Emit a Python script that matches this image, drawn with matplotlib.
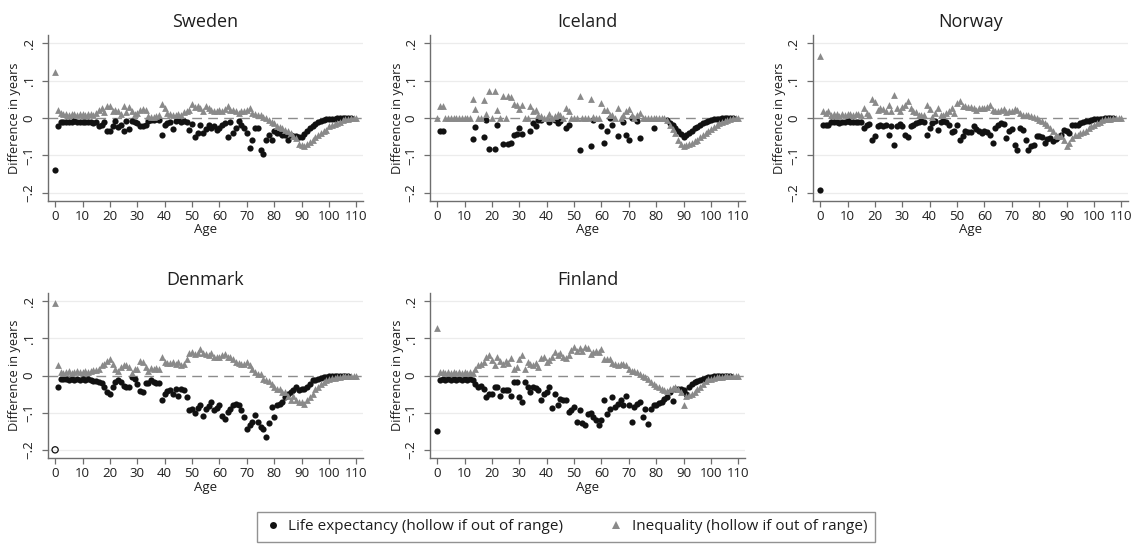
import matplotlib
matplotlib.use("Agg")
import matplotlib.pyplot as plt
from matplotlib.lines import Line2D
import numpy as np

plt.rcParams['font.family'] = ['Open Sans', 'DejaVu Sans']

ages = np.arange(0, 111)

countries = ["Sweden", "Iceland", "Norway", "Denmark", "Finland"]

# Difference in life expectancy (years), ages 0..110
sweden_le = [
    -0.138, -0.022, -0.012, -0.010, -0.012, -0.010, -0.012, -0.008, -0.012, -0.010,
    -0.012, -0.010, -0.012, -0.010, -0.014, -0.012, -0.022, -0.020, -0.012, -0.036,
    -0.036, -0.022, -0.009, -0.025, -0.018, -0.036, -0.009, -0.030, -0.009, -0.012,
    -0.014, -0.022, -0.022, -0.020, -0.008, -0.006, -0.005, -0.004, -0.006, -0.045,
    -0.018, -0.014, -0.012, -0.030, -0.009, -0.006, -0.012, -0.008, -0.010, -0.031,
    -0.016, -0.052, -0.040, -0.020, -0.040, -0.030, -0.018, -0.027, -0.022, -0.031,
    -0.027, -0.018, -0.013, -0.050, -0.012, -0.040, -0.027, -0.009, -0.018, -0.027,
    -0.040, -0.080, -0.058, -0.027, -0.027, -0.085, -0.095, -0.058, -0.045, -0.058,
    -0.036, -0.040, -0.040, -0.045, -0.045, -0.058, -0.045, -0.048, -0.049, -0.050,
    -0.050, -0.043, -0.036, -0.028, -0.022, -0.017, -0.012, -0.009, -0.006, -0.004,
    -0.003, -0.002, -0.002, -0.001, -0.001, 0.0, 0.0, 0.0, 0.0, 0.0,
    0.0]
iceland_le = [
    0.0, -0.034, -0.034, 0.0, 0.0, 0.0, 0.0, 0.0, 0.0, 0.0,
    0.0, 0.0, 0.0, -0.056, -0.025, 0.0, 0.0, -0.051, -0.006, -0.083,
    0.0, -0.083, -0.020, 0.0, -0.069, 0.0, -0.069, -0.067, -0.045, -0.043,
    -0.027, -0.043, 0.0, 0.0, -0.036, -0.013, -0.022, -0.005, -0.005, 0.0,
    0.0, -0.010, 0.0, -0.005, -0.013, -0.008, 0.0, -0.027, -0.018, 0.0,
    0.0, 0.0, -0.085, 0.0, 0.0, 0.0, -0.076, -0.006, 0.0, 0.0,
    -0.022, -0.067, -0.034, 0.0, -0.018, 0.0, -0.049, 0.0, -0.012, -0.045,
    -0.058, 0.0, 0.0, -0.009, -0.053, 0.0, 0.0, 0.0, 0.0, -0.027,
    0.0, 0.0, 0.0, 0.0, -0.006, -0.013, -0.020, -0.028, -0.036, -0.044,
    -0.052, -0.046, -0.040, -0.034, -0.028, -0.023, -0.018, -0.014, -0.011, -0.008,
    -0.006, -0.004, -0.003, -0.002, -0.001, 0.0, 0.0, 0.0, 0.0, 0.0,
    0.0]
norway_le = [
    -0.192, -0.018, -0.020, -0.018, -0.012, -0.010, -0.012, -0.014, -0.010, -0.012,
    -0.008, -0.012, -0.010, -0.012, -0.010, -0.012, -0.027, -0.020, -0.016, -0.058,
    -0.049, -0.022, -0.020, -0.022, -0.020, -0.045, -0.022, -0.073, -0.022, -0.015,
    -0.022, -0.045, -0.051, -0.022, -0.020, -0.013, -0.012, -0.009, -0.012, -0.045,
    -0.027, -0.013, -0.009, -0.033, -0.012, -0.009, -0.012, -0.018, -0.038, -0.036,
    -0.020, -0.058, -0.049, -0.036, -0.038, -0.038, -0.022, -0.030, -0.036, -0.040,
    -0.036, -0.038, -0.045, -0.067, -0.027, -0.018, -0.013, -0.015, -0.054, -0.036,
    -0.030, -0.071, -0.085, -0.027, -0.031, -0.060, -0.085, -0.076, -0.071, -0.049,
    -0.049, -0.051, -0.067, -0.055, -0.054, -0.062, -0.056, -0.050, -0.045, -0.031,
    -0.036, -0.040, -0.018, -0.018, -0.018, -0.013, -0.011, -0.009, -0.007, -0.005,
    -0.004, -0.003, -0.002, -0.002, -0.001, -0.001, 0.0, 0.0, 0.0, 0.0,
    0.0]
denmark_le = [
    -0.240, -0.031, -0.010, -0.010, -0.009, -0.012, -0.010, -0.013, -0.009, -0.011,
    -0.010, -0.012, -0.010, -0.013, -0.014, -0.016, -0.018, -0.021, -0.031, -0.045,
    -0.051, -0.031, -0.018, -0.012, -0.018, -0.027, -0.031, -0.031, -0.005, -0.009,
    -0.022, -0.043, -0.045, -0.020, -0.020, -0.012, -0.018, -0.020, -0.020, -0.067,
    -0.049, -0.042, -0.040, -0.049, -0.036, -0.054, -0.036, -0.040, -0.058, -0.094,
    -0.090, -0.100, -0.088, -0.080, -0.110, -0.090, -0.083, -0.071, -0.094, -0.087,
    -0.080, -0.110, -0.116, -0.098, -0.090, -0.080, -0.076, -0.080, -0.094, -0.111,
    -0.143, -0.134, -0.125, -0.107, -0.125, -0.138, -0.143, -0.165, -0.129, -0.085,
    -0.111, -0.080, -0.076, -0.071, -0.058, -0.051, -0.045, -0.040, -0.031, -0.040,
    -0.036, -0.036, -0.031, -0.022, -0.013, -0.011, -0.009, -0.007, -0.005, -0.004,
    -0.002, -0.001, -0.001, 0.0, 0.0, 0.0, 0.0, 0.0, 0.0, 0.0,
    0.0]
finland_le = [
    -0.149, -0.012, -0.010, -0.012, -0.009, -0.011, -0.010, -0.012, -0.009, -0.011,
    -0.010, -0.012, -0.009, -0.011, -0.022, -0.030, -0.027, -0.036, -0.058, -0.051,
    -0.049, -0.031, -0.031, -0.056, -0.040, -0.038, -0.040, -0.056, -0.018, -0.018,
    -0.058, -0.071, -0.018, -0.031, -0.045, -0.031, -0.033, -0.038, -0.067, -0.051,
    -0.045, -0.031, -0.087, -0.051, -0.080, -0.062, -0.065, -0.067, -0.098, -0.093,
    -0.085, -0.125, -0.093, -0.129, -0.134, -0.103, -0.100, -0.112, -0.121, -0.134,
    -0.120, -0.067, -0.103, -0.089, -0.058, -0.085, -0.076, -0.067, -0.080, -0.054,
    -0.080, -0.125, -0.085, -0.076, -0.071, -0.112, -0.090, -0.131, -0.089, -0.080,
    -0.080, -0.075, -0.071, -0.063, -0.058, -0.045, -0.069, -0.036, -0.036, -0.036,
    -0.040, -0.049, -0.031, -0.024, -0.018, -0.016, -0.012, -0.009, -0.006, -0.004,
    -0.003, -0.002, -0.001, -0.001, 0.0, 0.0, 0.0, 0.0, 0.0, 0.0,
    0.0]

# Difference in lifespan inequality (years), ages 0..110
sweden_ineq = [
    0.124, 0.022, 0.013, 0.010, 0.012, 0.008, 0.010, 0.012, 0.008, 0.010,
    0.012, 0.008, 0.010, 0.012, 0.008, 0.014, 0.022, 0.027, 0.015, 0.033,
    0.033, 0.020, 0.022, 0.018, 0.012, 0.033, 0.015, 0.030, 0.018, 0.012,
    0.013, 0.022, 0.024, 0.022, 0.005, 0.004, 0.004, 0.005, 0.008, 0.038,
    0.027, 0.013, 0.010, 0.009, 0.009, 0.012, 0.009, 0.015, 0.018, 0.022,
    0.038, 0.030, 0.032, 0.026, 0.020, 0.031, 0.027, 0.022, 0.018, 0.018,
    0.022, 0.020, 0.025, 0.033, 0.022, 0.022, 0.018, 0.013, 0.020, 0.018,
    0.022, 0.027, 0.013, 0.012, 0.009, 0.007, 0.004, 0.000, -0.005, -0.010,
    -0.013, -0.022, -0.024, -0.027, -0.031, -0.036, -0.040, -0.048, -0.054, -0.070,
    -0.072, -0.074, -0.069, -0.063, -0.058, -0.051, -0.045, -0.040, -0.035, -0.031,
    -0.022, -0.018, -0.015, -0.013, -0.010, -0.006, -0.004, -0.002, -0.001, 0.0,
    0.0]
iceland_ineq = [
    0.0, 0.033, 0.033, 0.0, 0.0, 0.0, 0.0, 0.0, 0.0, 0.0,
    0.0, 0.0, 0.0, 0.050, 0.025, 0.0, 0.0, 0.048, 0.010, 0.073,
    0.0, 0.073, 0.022, 0.0, 0.058, 0.0, 0.058, 0.056, 0.038, 0.035,
    0.025, 0.036, 0.0, 0.0, 0.031, 0.018, 0.022, 0.008, 0.005, 0.0,
    0.0, 0.010, 0.0, 0.005, 0.010, 0.007, 0.0, 0.027, 0.018, 0.0,
    0.0, 0.0, 0.060, 0.0, 0.0, 0.0, 0.051, 0.004, 0.0, 0.0,
    0.040, 0.022, 0.022, 0.009, 0.009, 0.0, 0.027, 0.0, 0.009, 0.018,
    0.024, 0.009, 0.0, 0.009, 0.013, 0.0, 0.0, 0.0, 0.0, 0.0,
    0.0, 0.0, 0.0, 0.0, -0.005, -0.018, -0.030, -0.040, -0.058, -0.069,
    -0.074, -0.072, -0.070, -0.067, -0.062, -0.058, -0.052, -0.045, -0.040, -0.034,
    -0.029, -0.024, -0.018, -0.014, -0.011, -0.007, -0.005, -0.002, -0.001, 0.0,
    0.0]
norway_ineq = [
    0.167, 0.018, 0.013, 0.018, 0.008, 0.012, 0.010, 0.006, 0.012, 0.008,
    0.010, 0.012, 0.008, 0.010, 0.012, 0.009, 0.027, 0.013, 0.009, 0.051,
    0.042, 0.022, 0.027, 0.024, 0.020, 0.036, 0.020, 0.062, 0.027, 0.018,
    0.030, 0.036, 0.045, 0.027, 0.020, 0.015, 0.009, 0.009, 0.009, 0.036,
    0.024, 0.004, 0.013, 0.028, 0.009, 0.009, 0.013, 0.018, 0.027, 0.013,
    0.040, 0.045, 0.033, 0.031, 0.030, 0.029, 0.027, 0.022, 0.026, 0.027,
    0.027, 0.030, 0.036, 0.022, 0.018, 0.018, 0.022, 0.024, 0.015, 0.018,
    0.018, 0.024, 0.022, 0.013, 0.009, 0.008, 0.009, 0.006, 0.003, 0.000,
    -0.005, -0.009, -0.013, -0.018, -0.027, -0.036, -0.045, -0.048, -0.049, -0.058,
    -0.076, -0.067, -0.054, -0.045, -0.045, -0.040, -0.038, -0.036, -0.027, -0.022,
    -0.018, -0.013, -0.010, -0.006, -0.004, -0.003, -0.002, -0.001, 0.0, 0.0,
    0.0]
denmark_ineq = [
    0.196, 0.028, 0.010, 0.008, 0.010, 0.012, 0.008, 0.010, 0.012, 0.009,
    0.010, 0.012, 0.010, 0.013, 0.014, 0.016, 0.018, 0.027, 0.031, 0.040,
    0.045, 0.031, 0.018, 0.013, 0.024, 0.027, 0.027, 0.022, 0.006, 0.018,
    0.018, 0.038, 0.036, 0.024, 0.013, 0.020, 0.018, 0.020, 0.018, 0.051,
    0.036, 0.033, 0.034, 0.036, 0.030, 0.036, 0.027, 0.030, 0.045, 0.060,
    0.062, 0.058, 0.060, 0.071, 0.060, 0.058, 0.054, 0.060, 0.051, 0.050,
    0.049, 0.054, 0.058, 0.051, 0.049, 0.045, 0.036, 0.033, 0.031, 0.031,
    0.036, 0.027, 0.018, 0.009, 0.004, 0.004, -0.009, -0.013, -0.014, -0.022,
    -0.031, -0.036, -0.036, -0.045, -0.045, -0.054, -0.067, -0.054, -0.067, -0.070,
    -0.071, -0.076, -0.067, -0.058, -0.049, -0.036, -0.031, -0.022, -0.018, -0.013,
    -0.010, -0.008, -0.006, -0.004, -0.003, -0.002, -0.001, -0.001, 0.0, 0.0,
    0.0]
finland_ineq = [
    0.128, 0.010, 0.009, 0.007, 0.010, 0.008, 0.009, 0.007, 0.010, 0.008,
    0.009, 0.007, 0.010, 0.008, 0.018, 0.027, 0.030, 0.036, 0.049, 0.054,
    0.042, 0.027, 0.049, 0.038, 0.031, 0.038, 0.033, 0.047, 0.018, 0.024,
    0.045, 0.054, 0.018, 0.036, 0.030, 0.027, 0.033, 0.024, 0.047, 0.051,
    0.036, 0.042, 0.049, 0.062, 0.054, 0.060, 0.049, 0.047, 0.054, 0.069,
    0.078, 0.066, 0.074, 0.067, 0.078, 0.074, 0.058, 0.062, 0.066, 0.062,
    0.071, 0.045, 0.045, 0.045, 0.033, 0.030, 0.029, 0.030, 0.030, 0.027,
    0.018, 0.013, 0.012, 0.009, 0.004, 0.000, -0.005, -0.009, -0.018, -0.022,
    -0.027, -0.031, -0.036, -0.040, -0.042, -0.036, -0.033, -0.031, -0.036, -0.045,
    -0.080, -0.054, -0.052, -0.049, -0.045, -0.036, -0.030, -0.022, -0.016, -0.010,
    -0.009, -0.007, -0.005, -0.004, -0.003, -0.002, -0.001, -0.001, 0.0, 0.0,
    0.0]

le_series = [sweden_le, iceland_le, norway_le, denmark_le, finland_le]
ineq_series = [sweden_ineq, iceland_ineq, norway_ineq, denmark_ineq, finland_ineq]

x_ticks = list(range(0, 111, 10))
y_ticks = [-0.2, -0.1, 0.0, 0.1, 0.2]
y_tick_labels = ["\u2212.2", "\u2212.1", "0", ".1", ".2"]
y_range = 0.2  # values beyond this are drawn hollow at the limit

W, H = 1132, 551
fig = plt.figure(figsize=(W / 100, H / 100), dpi=100)
fig.patch.set_facecolor("white")

# panel boxes in pixels: (left, top, width, height)
panel_px = [(48, 35, 315, 166), (430, 35, 315, 166), (813, 35, 315, 166),
            (48, 293, 315, 165), (430, 293, 315, 165)]

LE_COLOR = "#111111"
INEQ_COLOR = "#8a8a8a"
AXIS_COLOR = "#6e6e6e"
TEXT_COLOR = "#1e1e1e"


def draw_series(ax, values, marker, color, size, hide=None):
    v = np.asarray(values, dtype=float)
    out = np.abs(v) > y_range
    keep = ~out if hide is None else (~out & ~hide)
    vc = np.clip(v, -y_range, y_range)
    ax.scatter(ages[keep], vc[keep], s=size, marker=marker, color=color,
               linewidths=0, zorder=3)
    if out.any():
        ax.scatter(ages[out], vc[out], s=size, marker=marker, facecolors="none",
                   edgecolors=color, linewidths=0.9, zorder=3)


for name, le, ineq, (l, t, w, h) in zip(countries, le_series, ineq_series, panel_px):
    ax = fig.add_axes([l / W, 1 - (t + h) / H, w / W, h / H])
    ax.set_xlim(-2.6, 112.4)
    ax.set_ylim(-0.222, 0.222)
    for g in (-0.2, -0.1, 0.1, 0.2):
        ax.axhline(g, color="#ececec", lw=0.9, zorder=1)
    ax.axhline(0, color="#8c8c8c", lw=1.0, dashes=(7, 4.5), zorder=2)

    # circles sitting exactly under a triangle are covered by it
    both_zero = (np.asarray(le) == 0) & (np.asarray(ineq) == 0)
    draw_series(ax, le, "o", LE_COLOR, 20, hide=both_zero)
    draw_series(ax, ineq, "^", INEQ_COLOR, 24)

    for side in ("top", "right"):
        ax.spines[side].set_visible(False)
    for side in ("left", "bottom"):
        ax.spines[side].set_color(AXIS_COLOR)
        ax.spines[side].set_linewidth(1.0)

    ax.set_xticks(x_ticks)
    ax.set_xticklabels([str(v) for v in x_ticks])
    ax.set_yticks(y_ticks)
    ax.set_yticklabels(y_tick_labels, rotation=90, va="center")
    ax.tick_params(axis="x", length=4, width=0.9, color=AXIS_COLOR, pad=2.5,
                   labelsize=9.5, labelcolor=TEXT_COLOR)
    ax.tick_params(axis="y", length=4, width=0.9, color=AXIS_COLOR, pad=5,
                   labelsize=9.5, labelcolor=TEXT_COLOR)

    ax.text(0.5, 1 + 13 / h, name, transform=ax.transAxes, ha="center",
            va="center", fontsize=13, color=TEXT_COLOR)
    ax.text(0.5, -29 / h, "Age", transform=ax.transAxes, ha="center",
            va="center", fontsize=9.5, color=TEXT_COLOR)
    ax.text(-33 / w, 0.5, "Difference in years", transform=ax.transAxes,
            ha="center", va="center", rotation=90, fontsize=9.2, color=TEXT_COLOR)

handles = [
    Line2D([], [], linestyle="none", marker="o", markersize=5,
           markerfacecolor=LE_COLOR, markeredgewidth=0),
    Line2D([], [], linestyle="none", marker="^", markersize=5.5,
           markerfacecolor=INEQ_COLOR, markeredgewidth=0),
]
labels = ["Life expectancy (hollow if out of range)",
          "Inequality (hollow if out of range)"]
leg = fig.legend(handles, labels, loc="center", ncol=2,
                 bbox_to_anchor=(566 / W, 1 - 527 / H),
                 frameon=True, fancybox=False, fontsize=11,
                 handletextpad=0.5, columnspacing=3.0, borderpad=0.5,
                 handlelength=1.0)
leg.get_frame().set_edgecolor("#777777")
leg.get_frame().set_linewidth(1.0)
for txt in leg.get_texts():
    txt.set_color(TEXT_COLOR)

fig.savefig("out.png", dpi=100, facecolor="white")
